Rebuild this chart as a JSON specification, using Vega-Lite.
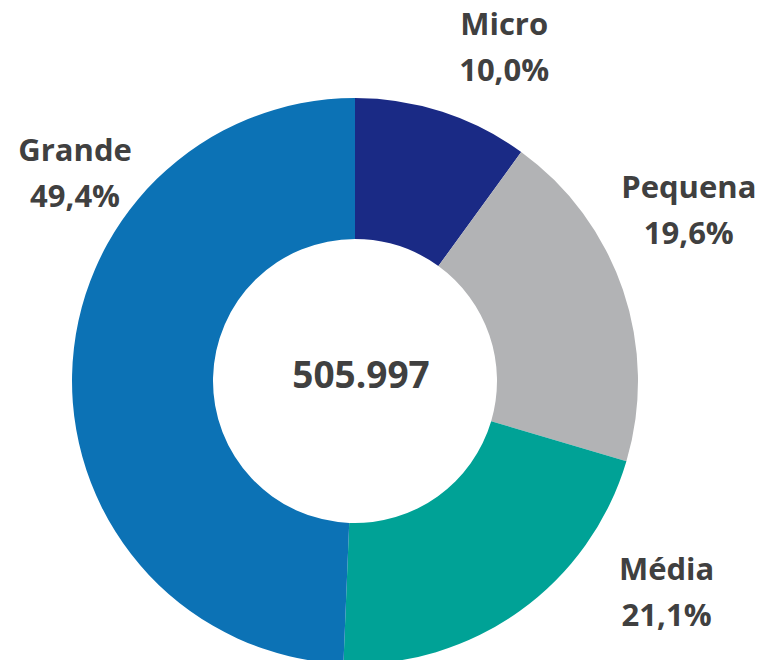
{
  "$schema": "https://vega.github.io/schema/vega-lite/v6.json",
  "width": 566,
  "height": 558,
  "autosize": "none",
  "padding": {"left": 72, "top": 102, "right": 119, "bottom": 0},
  "background": "white",
  "config": {"view": {"stroke": null}},
  "datasets": {
    "seg": [
      {"i": 1, "cat": "Micro", "pct": 10.0},
      {"i": 2, "cat": "Pequena", "pct": 19.6},
      {"i": 3, "cat": "Média", "pct": 21.1},
      {"i": 4, "cat": "Grande", "pct": 49.4}
    ],
    "tot": [{"total": 505997}]
  },
  "layer": [
    {
      "data": {"name": "seg"},
      "mark": {"type": "arc", "outerRadius": 283, "innerRadius": 142},
      "encoding": {
        "theta": {"field": "pct", "type": "quantitative", "stack": true},
        "order": {"field": "i", "type": "quantitative"},
        "color": {
          "field": "cat",
          "type": "nominal",
          "scale": {
            "domain": ["Micro", "Pequena", "Média", "Grande"],
            "range": ["#1a2a85", "#b2b3b5", "#00a296", "#0c72b5"]
          },
          "legend": null
        }
      }
    },
    {
      "data": {"name": "seg"},
      "transform": [
        {"calculate": "datum.cat + '\\n' + replace(format(datum.pct, '.1f'), '.', ',') + '%'", "as": "label"}
      ],
      "mark": {
        "type": "text",
        "radius": 360,
        "font": "Open Sans",
        "fontWeight": "bold",
        "fontSize": 31,
        "lineHeight": 46,
        "lineBreak": "\n",
        "align": "center",
        "baseline": "middle",
        "color": "#404040",
        "dx": {"expr": "datum.cat === 'Micro' ? 38 : datum.cat === 'Pequena' ? -7 : datum.cat === 'Média' ? 102 : 80"},
        "dy": {"expr": "datum.cat === 'Micro' ? -13 : datum.cat === 'Pequena' ? -76 : datum.cat === 'Média' ? -103 : -222"}
      },
      "encoding": {
        "theta": {"field": "pct", "type": "quantitative", "stack": true},
        "order": {"field": "i", "type": "quantitative"},
        "text": {"field": "label", "type": "nominal"}
      }
    },
    {
      "data": {"name": "tot"},
      "transform": [
        {"calculate": "replace(format(datum.total, ','), ',', '.')", "as": "label"}
      ],
      "mark": {
        "type": "text",
        "font": "Open Sans",
        "fontWeight": "bold",
        "fontSize": 37,
        "align": "center",
        "baseline": "middle",
        "color": "#404040",
        "dx": 6,
        "dy": -4
      },
      "encoding": {
        "text": {"field": "label", "type": "nominal"}
      }
    }
  ]
}
